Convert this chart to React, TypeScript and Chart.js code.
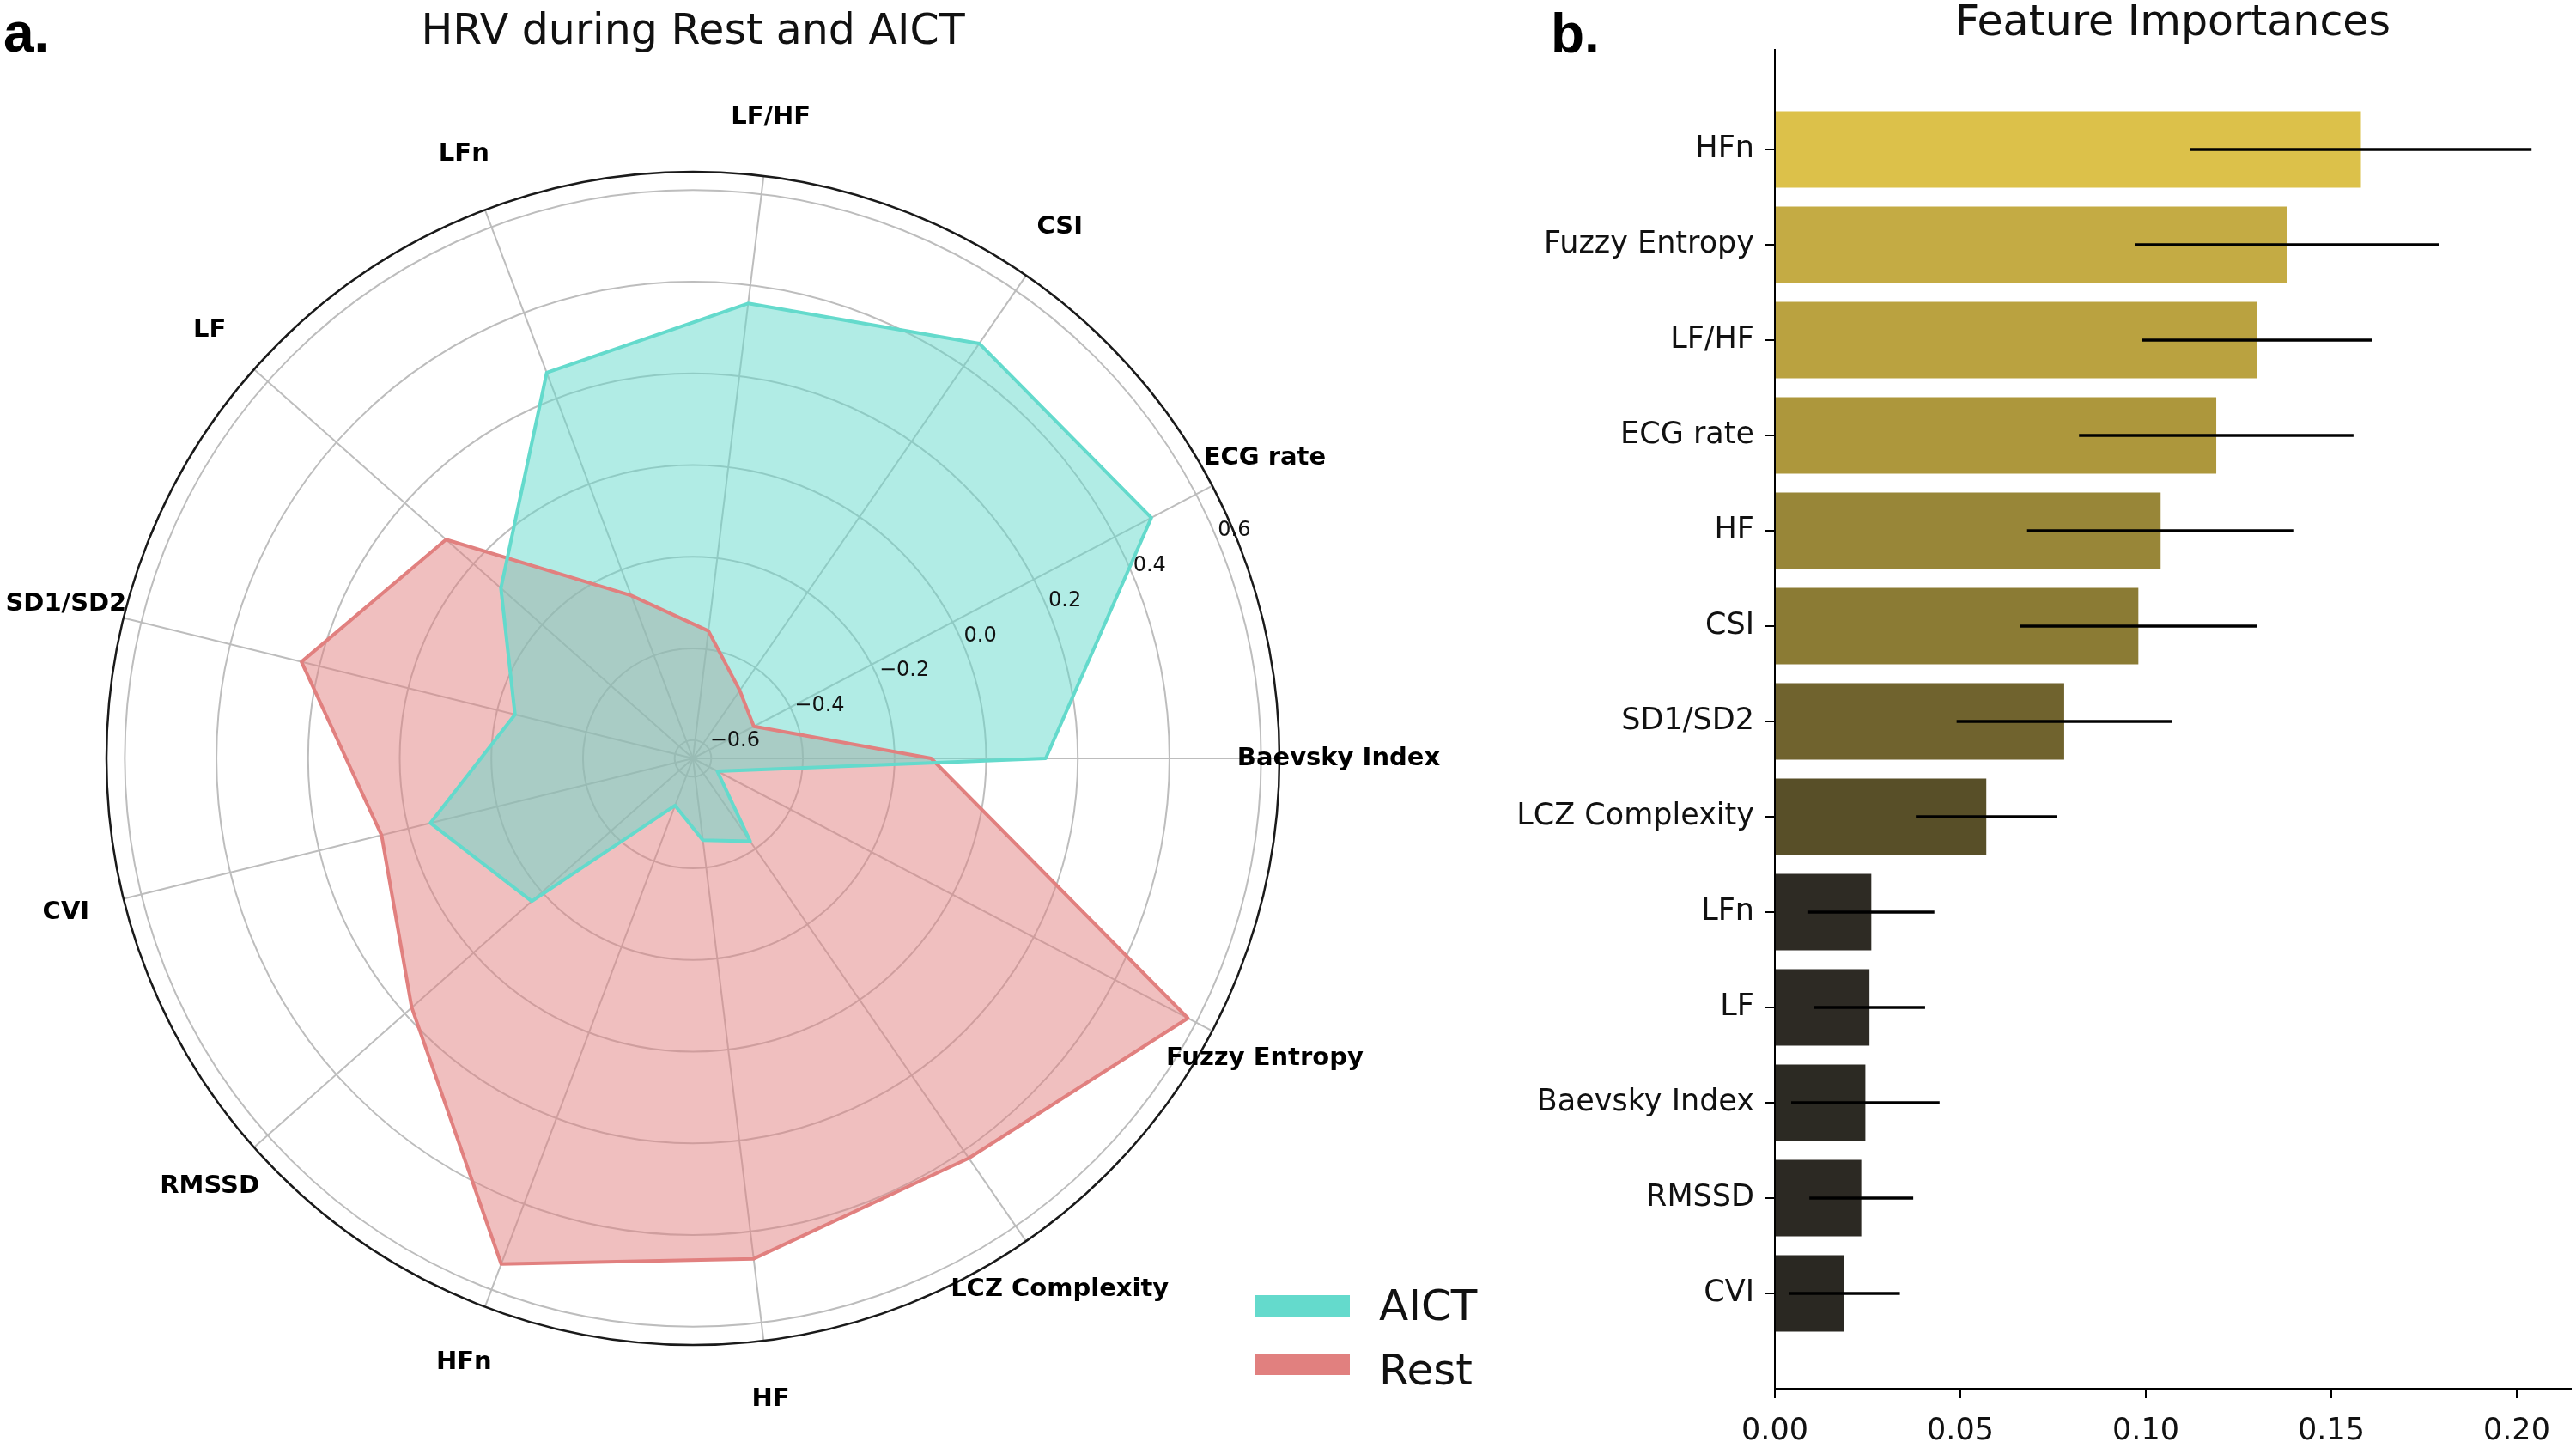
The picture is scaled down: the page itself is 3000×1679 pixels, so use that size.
import React, { useEffect, useRef } from "react";
import { Chart, registerables } from "chart.js";

Chart.register(...registerables);

// ---------------- DATA ----------------
// Radar (order as in the polar plot, counter-clockwise from the east axis)
const radarCategories = [
  "Baevsky Index",
  "ECG rate",
  "CSI",
  "LF/HF",
  "LFn",
  "LF",
  "SD1/SD2",
  "CVI",
  "RMSSD",
  "HFn",
  "HF",
  "LCZ Complexity",
  "Fuzzy Entropy",
];
const aictValues = [0.13, 0.49, 0.46, 0.36, 0.26, -0.08, -0.24, -0.05, -0.17, -0.53, -0.46, -0.42, -0.58];
const restValues = [-0.12, -0.49, -0.46, -0.36, -0.26, 0.08, 0.24, 0.06, 0.18, 0.54, 0.46, 0.42, 0.58];
const radialTicks = [-0.6, -0.4, -0.2, 0.0, 0.2, 0.4, 0.6];
const radialMin = -0.64;
const radialMax = 0.64;
const seriesNames = ["AICT", "Rest"];

// Feature importances (top to bottom)
const featureNames = [
  "HFn",
  "Fuzzy Entropy",
  "LF/HF",
  "ECG rate",
  "HF",
  "CSI",
  "SD1/SD2",
  "LCZ Complexity",
  "LFn",
  "LF",
  "Baevsky Index",
  "RMSSD",
  "CVI",
];
const importances = [0.158, 0.138, 0.130, 0.119, 0.104, 0.098, 0.078, 0.057, 0.026, 0.0255, 0.0244, 0.0233, 0.0187];
const importanceStd = [0.046, 0.041, 0.031, 0.037, 0.036, 0.032, 0.029, 0.019, 0.017, 0.015, 0.020, 0.014, 0.015];
const importanceTicks = [0, 0.05, 0.1, 0.15, 0.2];

// ---------------- STYLE ----------------
const barColors = [
  "#DCC14A",
  "#C4AB44",
  "#BAA240",
  "#AD973C",
  "#988638",
  "#8B7B34",
  "#70632E",
  "#584F28",
  "#2E2B24",
  "#2D2A24",
  "#2C2A23",
  "#2C2923",
  "#2A2822",
];
const TEAL = "rgb(100,218,204)";
const TEAL_FILL = "rgba(100,218,204,0.5)";
const RED = "rgb(225,128,127)";
const RED_FILL = "rgba(225,128,127,0.5)";
const FONT = '"DejaVu Sans", sans-serif';
const LETTER_FONT = '"Liberation Sans", Arial, sans-serif';
const GRID = "#bdbdbd";
const TEXT = "#111111";

Chart.defaults.font.family = FONT;

function RadarPanel() {
  const ref = useRef<HTMLCanvasElement>(null);
  useEffect(() => {
    const canvas = ref.current!;
    const n = radarCategories.length;
    // Chart.js goes clockwise; matplotlib goes counter-clockwise -> reverse order
    const order = radarCategories.map((_, j) => (n - j) % n);
    const labels = order.map((i) => radarCategories[i]);
    const aict = order.map((i) => aictValues[i]);
    const rest = order.map((i) => restValues[i]);

    const decor = {
      id: "radarDecor",
      beforeDatasetsDraw(chart: any) {
        const s = chart.scales.r;
        const ctx = chart.ctx;
        ctx.save();
        ctx.beginPath();
        ctx.arc(s.xCenter, s.yCenter, s.getDistanceFromCenterForValue(radialMax), 0, Math.PI * 2);
        ctx.strokeStyle = "#1a1a1a";
        ctx.lineWidth = 2.5;
        ctx.stroke();
        ctx.restore();
      },
      afterDraw(chart: any) {
        const s = chart.scales.r;
        const ctx = chart.ctx;
        ctx.save();
        // category labels
        ctx.fillStyle = "#000";
        ctx.font = `bold 29px ${FONT}`;
        ctx.textAlign = "center";
        ctx.textBaseline = "middle";
        const labelDist = s.getDistanceFromCenterForValue(radialMax) + 69;
        labels.forEach((lab, j) => {
          const p = s.getPointPosition(j, labelDist);
          ctx.fillText(lab, p.x, p.y);
        });
        // radial tick labels along 22.5 degrees
        ctx.font = `24px ${FONT}`;
        ctx.fillStyle = TEXT;
        ctx.textAlign = "left";
        ctx.textBaseline = "bottom";
        const a = (-22.5 * Math.PI) / 180;
        radialTicks.forEach((v) => {
          const d = s.getDistanceFromCenterForValue(v);
          const txt = (v < 0 ? "\u2212" : "") + Math.abs(v).toFixed(1);
          ctx.fillText(txt, s.xCenter + d * Math.cos(a), s.yCenter + d * Math.sin(a));
        });
        // title
        ctx.font = `49px ${FONT}`;
        ctx.fillStyle = TEXT;
        ctx.textAlign = "center";
        ctx.textBaseline = "alphabetic";
        ctx.fillText("HRV during Rest and AICT", s.xCenter, 51);
        // panel letter
        ctx.font = `bold 64px ${LETTER_FONT}`;
        ctx.fillStyle = "#000";
        ctx.textAlign = "left";
        ctx.fillText("a.", 4, 60);
        // legend
        const cols = [TEAL, RED];
        const ys = [1508, 1576];
        const bases = [1537, 1612];
        ctx.font = `50px ${FONT}`;
        seriesNames.forEach((nm, k) => {
          ctx.fillStyle = cols[k];
          ctx.fillRect(1462, ys[k], 110, 25);
          ctx.fillStyle = TEXT;
          ctx.fillText(nm, 1606, bases[k]);
        });
        ctx.restore();
      },
    };

    const chart = new Chart(canvas, {
      type: "radar",
      data: {
        labels,
        datasets: [
          {
            label: seriesNames[0],
            data: aict,
            borderColor: TEAL,
            backgroundColor: TEAL_FILL,
            borderWidth: 4,
            fill: "start",
            pointRadius: 0,
            pointHoverRadius: 0,
            borderJoinStyle: "round",
          },
          {
            label: seriesNames[1],
            data: rest,
            borderColor: RED,
            backgroundColor: RED_FILL,
            borderWidth: 4,
            fill: "start",
            pointRadius: 0,
            pointHoverRadius: 0,
            borderJoinStyle: "round",
          },
        ],
      },
      options: {
        responsive: false,
        animation: false,
        layout: { padding: { left: 124, top: 200, right: 270, bottom: 113 } },
        plugins: {
          legend: { display: false },
          title: { display: false },
          tooltip: { enabled: false },
          filler: { drawTime: "beforeDatasetsDraw" },
        } as any,
        elements: { line: { tension: 0 } },
        scales: {
          r: {
            min: radialMin,
            max: radialMax,
            startAngle: 90,
            grid: { circular: true, color: GRID, lineWidth: 2 },
            angleLines: { display: true, color: GRID, lineWidth: 2 },
            pointLabels: { display: false },
            ticks: { display: false },
            afterBuildTicks: (sc: any) => {
              sc.ticks = radialTicks.map((v) => ({ value: v }));
            },
          } as any,
        },
      },
      plugins: [decor],
    });
    return () => chart.destroy();
  }, []);
  return (
    <canvas
      ref={ref}
      width={1760}
      height={1679}
      style={{ position: "absolute", left: 0, top: 0, width: 1760, height: 1679 }}
    />
  );
}

function BarPanel() {
  const ref = useRef<HTMLCanvasElement>(null);
  useEffect(() => {
    const canvas = ref.current!;
    const decor = {
      id: "barDecor",
      afterDatasetsDraw(chart: any) {
        const xs = chart.scales.x;
        const ys = chart.scales.y;
        const ctx = chart.ctx;
        ctx.save();
        ctx.strokeStyle = "#000";
        ctx.lineWidth = 3.5;
        featureNames.forEach((_, i) => {
          const y = ys.getPixelForValue(i);
          ctx.beginPath();
          ctx.moveTo(xs.getPixelForValue(importances[i] - importanceStd[i]), y);
          ctx.lineTo(xs.getPixelForValue(importances[i] + importanceStd[i]), y);
          ctx.stroke();
        });
        ctx.restore();
      },
      afterDraw(chart: any) {
        const ctx = chart.ctx;
        const area = chart.chartArea;
        ctx.save();
        ctx.font = `49px ${FONT}`;
        ctx.fillStyle = TEXT;
        ctx.textAlign = "center";
        ctx.textBaseline = "alphabetic";
        ctx.fillText("Feature Importances", (area.left + area.right) / 2, 41);
        ctx.font = `bold 64px ${LETTER_FONT}`;
        ctx.fillStyle = "#000";
        ctx.textAlign = "left";
        ctx.fillText("b.", 46, 61);
        ctx.restore();
      },
    };
    const chart = new Chart(canvas, {
      type: "bar",
      data: {
        datasets: [
          {
            label: "Feature Importances",
            data: featureNames.map((_, i) => ({ x: importances[i], y: i })),
            backgroundColor: barColors,
            borderWidth: 0,
            categoryPercentage: 0.8,
            barPercentage: 1,
          },
        ],
      },
      options: {
        indexAxis: "y",
        responsive: false,
        animation: false,
        layout: { padding: { left: 0, top: 58, right: 6, bottom: 0 } },
        plugins: { legend: { display: false }, tooltip: { enabled: false }, title: { display: false } },
        scales: {
          x: {
            type: "linear",
            position: "bottom",
            min: 0,
            max: 0.2146,
            offset: false,
            afterBuildTicks: (sc: any) => {
              sc.ticks = importanceTicks.map((v) => ({ value: v }));
            },
            afterFit: (sc: any) => {
              sc.height = 62;
            },
            grid: { offset: false, drawOnChartArea: false, drawTicks: true, tickLength: 11, color: "#000", lineWidth: 2 },
            border: { display: true, color: "#000", width: 2 },
            ticks: {
              callback: (v: any) => Number(v).toFixed(2),
              font: { size: 35 },
              color: TEXT,
              padding: 18,
              maxRotation: 0,
              autoSkip: false,
            },
          } as any,
          y: {
            type: "linear",
            position: "left",
            reverse: true,
            min: -1.045,
            max: 13.0,
            offset: false,
            afterBuildTicks: (sc: any) => {
              sc.ticks = featureNames.map((_, i) => ({ value: i }));
            },
            afterFit: (sc: any) => {
              sc.width = 307;
            },
            grid: { offset: false, drawOnChartArea: false, drawTicks: true, tickLength: 11, color: "#000", lineWidth: 2 },
            border: { display: true, color: "#000", width: 2 },
            ticks: {
              callback: (v: any) => featureNames[Math.round(Number(v))] ?? "",
              font: { size: 35 },
              color: TEXT,
              padding: 13,
              autoSkip: false,
            },
          } as any,
        },
      },
      plugins: [decor],
    });
    return () => chart.destroy();
  }, []);
  return (
    <canvas
      ref={ref}
      width={1240}
      height={1679}
      style={{ position: "absolute", left: 1760, top: 0, width: 1240, height: 1679 }}
    />
  );
}

export default function App() {
  useEffect(() => {
    document.body.style.margin = "0";
  }, []);
  return (
    <div
      style={{
        position: "absolute",
        left: 0,
        top: 0,
        width: 3000,
        height: 1679,
        background: "#ffffff",
        overflow: "hidden",
      }}
    >
      <RadarPanel />
      <BarPanel />
    </div>
  );
}
